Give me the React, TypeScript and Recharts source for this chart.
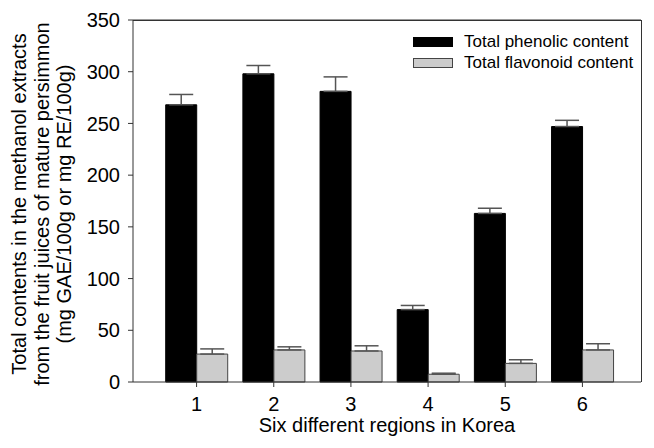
import {Bar, BarChart, ErrorBar, Legend, ReferenceLine, XAxis, YAxis} from 'recharts';

const regions = ['1', '2', '3', '4', '5', '6'];
const phenolic = [268, 298, 281, 70, 163, 247];
const phenolicErr = [10, 8, 14, 4, 5, 6];
const flavonoid = [27, 31, 30, 7.5, 18, 31];
const flavonoidErr = [5, 3, 5, 1, 3.5, 6];
const yTicks = [0, 50, 100, 150, 200, 250, 300, 350];

const yLabelLines = [
    'Total contents in the methanol extracts',
    'from the fruit juices of mature persimmon',
    '(mg GAE/100g or mg RE/100g)',
];

const data = regions.map((r, i) => ({
    region: r,
    phenolic: phenolic[i],
    phenolicErr: [0, phenolicErr[i]],
    flavonoid: flavonoid[i],
    flavonoidErr: [0, flavonoidErr[i]],
}));

const FONT = '"Liberation Sans", Arial, sans-serif';

const legendItems = [
    {label: 'Total phenolic content', fill: '#000000', stroke: '#000000'},
    {label: 'Total flavonoid content', fill: '#cccccc', stroke: '#444444'},
];

function LegendBox() {
    return (
        <div style={{fontFamily: FONT, fontSize: 17, color: '#000', lineHeight: 1}}>
            {legendItems.map(item => (
                <div key={item.label} style={{display: 'flex', alignItems: 'center', height: 21}}>
                    <span style={{
                        display: 'inline-block', width: 38, height: 8, background: item.fill,
                        border: `1px solid ${item.stroke}`, marginRight: 11
                    }}/>
                    <span>{item.label}</span>
                </div>
            ))}
        </div>
    );
}

function YLabel() {
    const cy = 204;
    return (
        <g>
            {yLabelLines.map((line, i) => {
                const x = 19 + i * 22.5;
                return (
                    <text key={i} x={x} y={cy} transform={`rotate(-90, ${x}, ${cy})`} textAnchor="middle"
                          dominantBaseline="central" fontFamily={FONT} fontSize={20} fill="#000">
                        {line}
                    </text>
                );
            })}
        </g>
    );
}

const W = 654;
const H = 448;
const Y_AXIS_W = 60;
const X_AXIS_H = 66;
const MARGIN = {top: 20, right: 13, left: 73, bottom: 0};
const PLOT_LEFT = MARGIN.left + Y_AXIS_W;
const PLOT_RIGHT = W - MARGIN.right;
const PLOT_H = H - MARGIN.top - X_AXIS_H;

// full top edge + right edge of the plot box
function FrameLabel() {
    return (
        <path d={`M${PLOT_LEFT},${MARGIN.top + 0.5}H${PLOT_RIGHT + 0.5}V${MARGIN.top + PLOT_H}`}
              stroke="#333" strokeWidth={1} fill="none"/>
    );
}

export default function App() {
    return (
        <div style={{position: 'absolute', left: 0, top: 0, background: '#fff', width: W, height: H}}>
            <BarChart width={W} height={H} data={data} barGap={0} barCategoryGap="10%" margin={MARGIN}>
                <XAxis dataKey="region" padding={{left: 25, right: 20}} tickSize={5} tickMargin={10}
                       stroke="#333" tick={{fill: '#000', fontSize: 20, fontFamily: FONT}} height={X_AXIS_H}
                       label={{value: 'Six different regions in Korea', position: 'insideBottom', offset: 16,
                           fill: '#000', fontSize: 20, fontFamily: FONT}}/>
                <YAxis domain={[0, 350]} ticks={yTicks} tickSize={5} tickMargin={8} width={Y_AXIS_W} stroke="#333"
                       tick={{fill: '#000', fontSize: 20, fontFamily: FONT}} interval={0}
                       label={{content: () => <YLabel/>}}/>
                <ReferenceLine y={350} stroke="#333" strokeWidth={1} ifOverflow="visible"
                               label={{content: () => <FrameLabel/>}}/>
                <Legend verticalAlign="middle" align="center" layout="horizontal" content={() => <LegendBox/>}
                        wrapperStyle={{top: 31, left: 413, width: 230}}/>
                <Bar dataKey="phenolic" fill="#000000" stroke="#000000" isAnimationActive={false}>
                    <ErrorBar dataKey="phenolicErr" width={12} stroke="#555" strokeWidth={1.5} direction="y"/>
                </Bar>
                <Bar dataKey="flavonoid" fill="#cccccc" stroke="#444444" isAnimationActive={false}>
                    <ErrorBar dataKey="flavonoidErr" width={12} stroke="#555" strokeWidth={1.5} direction="y"/>
                </Bar>
            </BarChart>
            <div style={{
                position: 'absolute', left: PLOT_LEFT, top: MARGIN.top, width: PLOT_RIGHT - PLOT_LEFT + 1,
                height: PLOT_H, borderTop: '1px solid #333', borderRight: '1px solid #333',
                boxSizing: 'border-box', zIndex: 5, pointerEvents: 'none'
            }}/>
        </div>
    );
}
